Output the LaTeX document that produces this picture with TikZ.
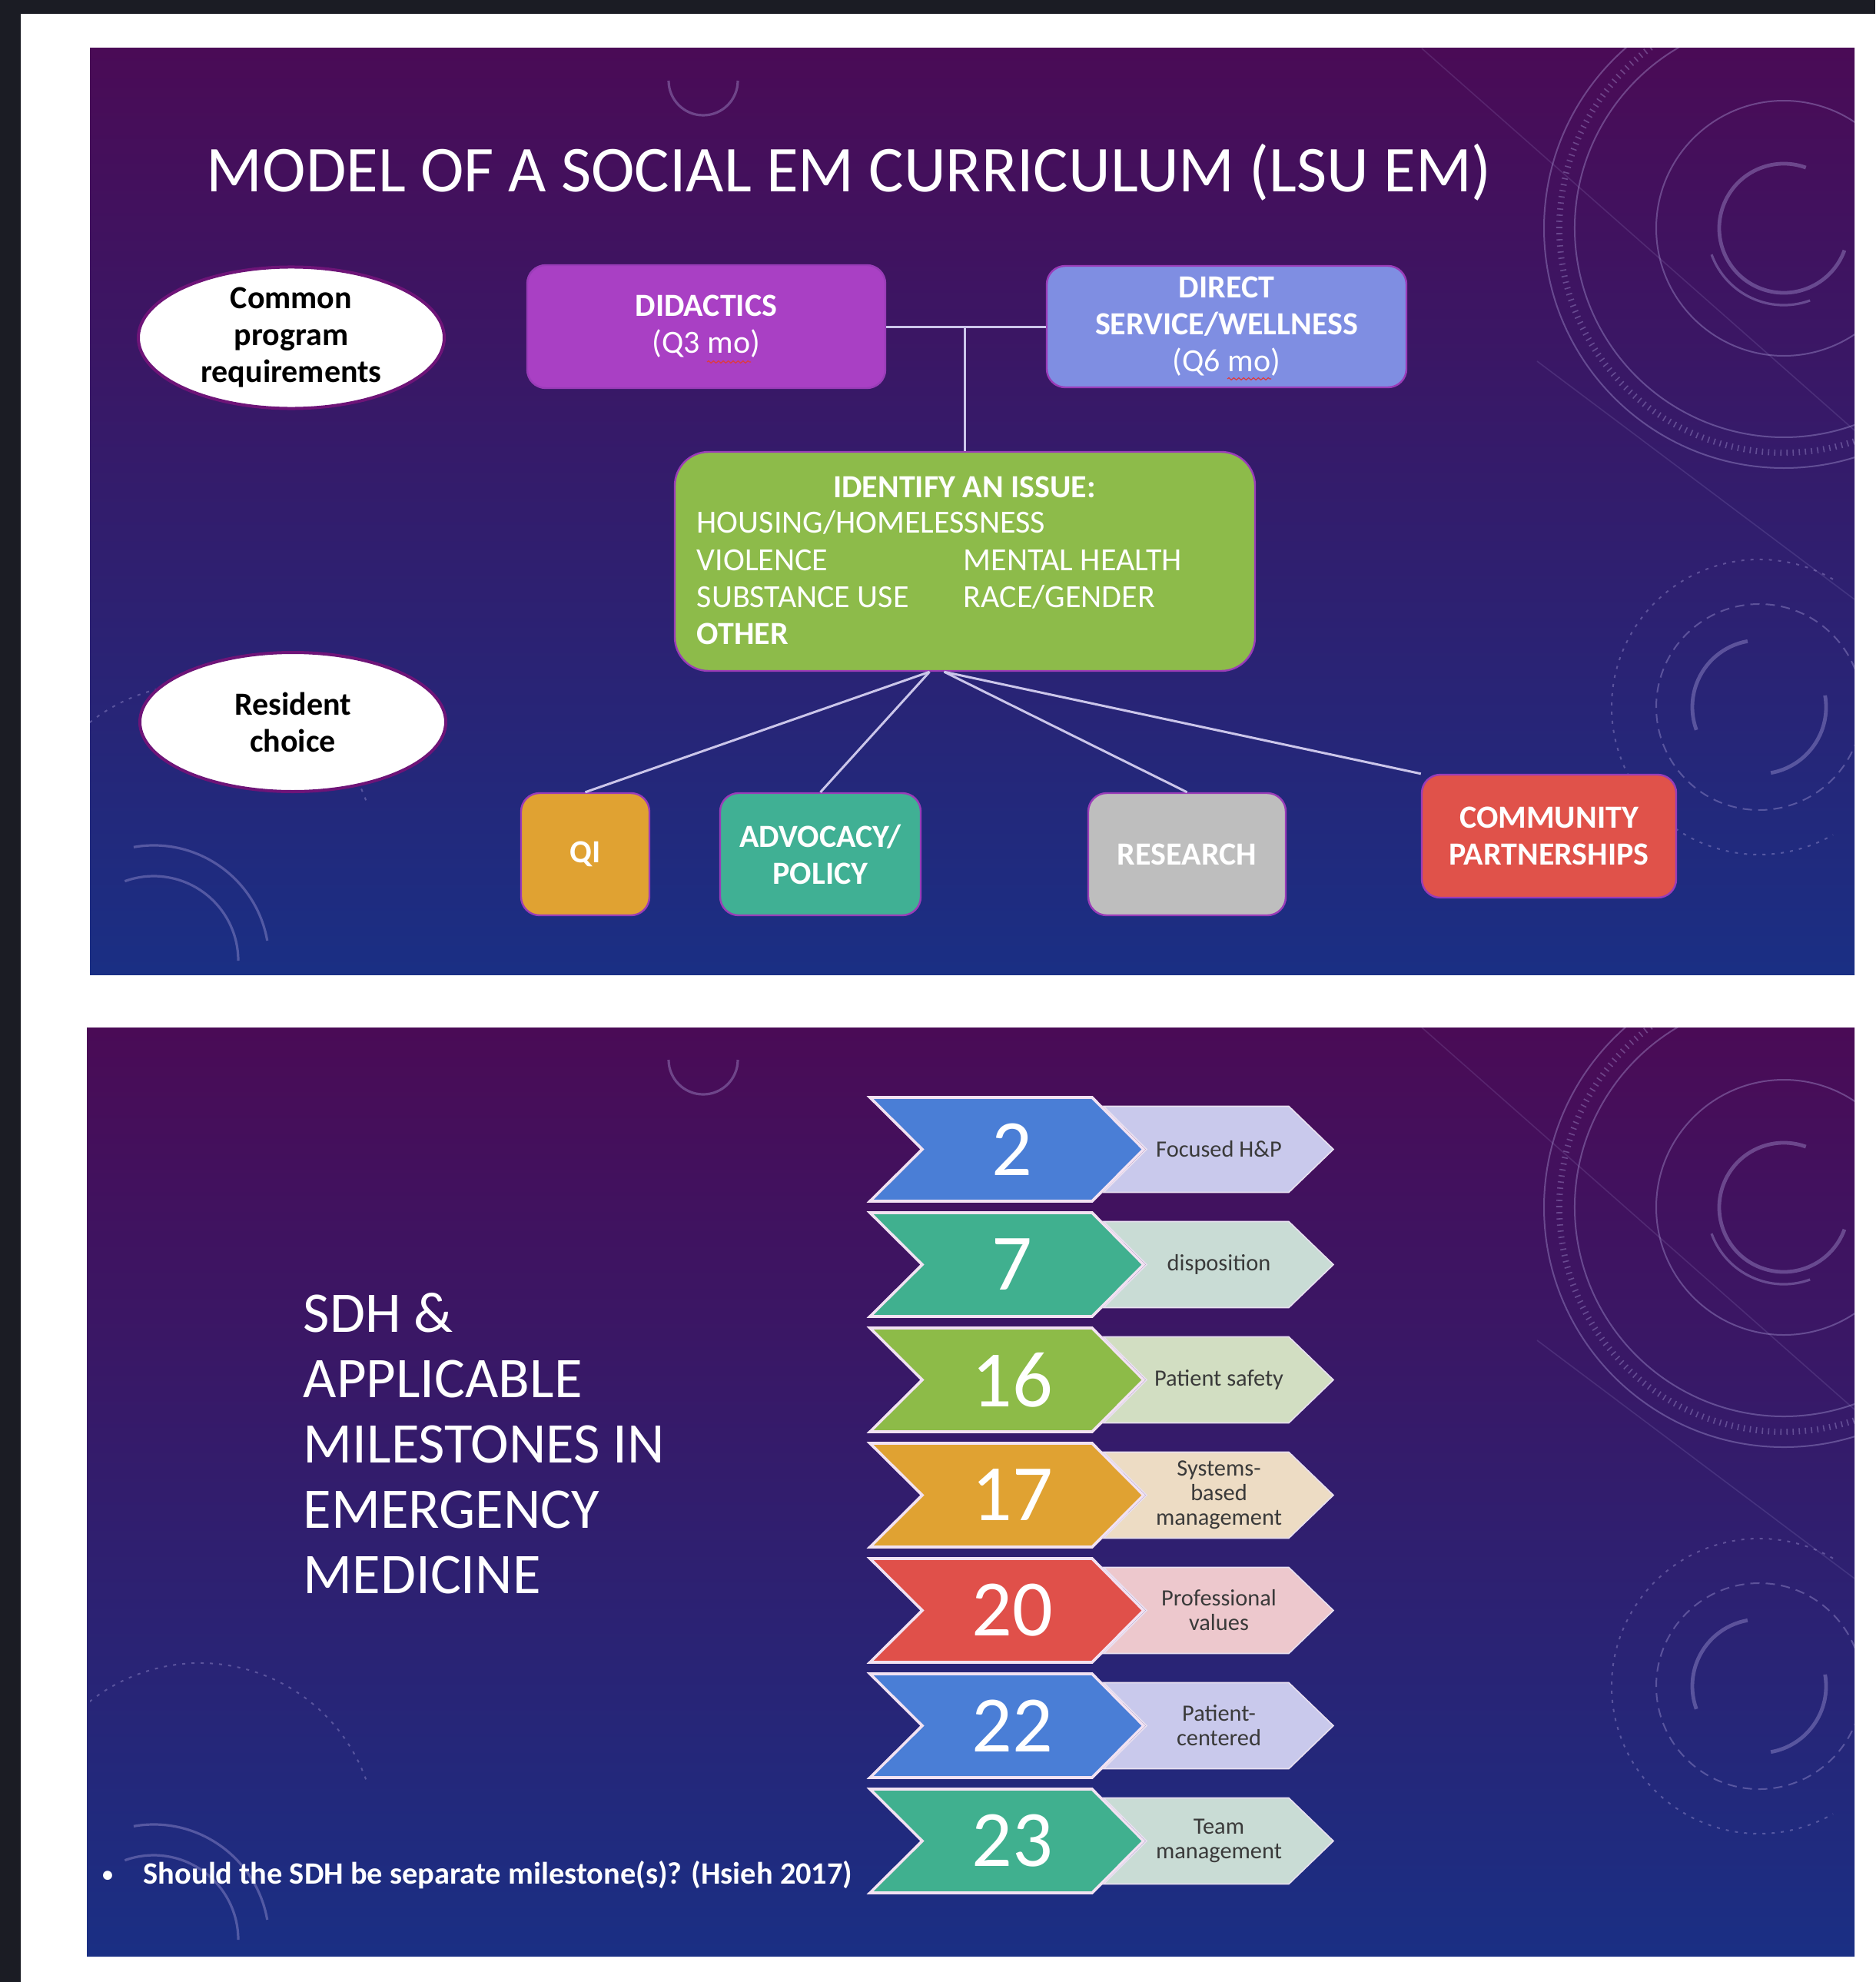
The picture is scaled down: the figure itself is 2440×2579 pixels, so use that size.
\documentclass[tikz,border=0pt]{standalone}
\usepackage{fontspec}
\setmainfont{Carlito}
\usetikzlibrary{shapes.geometric,decorations.pathmorphing,calc}
\definecolor{pagedark}{HTML}{1B1C24}
\definecolor{slidetop}{HTML}{4A0B56}
\definecolor{slidemid}{HTML}{37197A}
\definecolor{slidebot}{HTML}{1A2F84}
\definecolor{decoc}{HTML}{B9AEE6}
\definecolor{connc}{HTML}{CBC6EA}
\definecolor{boxedge}{HTML}{9A3CB8}
\definecolor{elledge}{HTML}{6E1478}
\definecolor{didc}{HTML}{A940C4}
\definecolor{dirc}{HTML}{7F8EE2}
\definecolor{issc}{HTML}{8DBB4A}
\definecolor{qic}{HTML}{E0A232}
\definecolor{advc}{HTML}{40B094}
\definecolor{resc}{HTML}{BEBEBE}
\definecolor{comc}{HTML}{E0524A}
\definecolor{chblue}{HTML}{4A7ED6}
\definecolor{chteal}{HTML}{40B08F}
\definecolor{chgreen}{HTML}{8DBB48}
\definecolor{chorange}{HTML}{E0A232}
\definecolor{chred}{HTML}{E0504A}
\definecolor{lbblue}{HTML}{C9C9EC}
\definecolor{lbteal}{HTML}{C9DCD5}
\definecolor{lbgreen}{HTML}{D2DEC2}
\definecolor{lborange}{HTML}{EDDCC4}
\definecolor{lbred}{HTML}{EDC8CD}
\definecolor{numedge}{HTML}{F2E2F2}
\definecolor{labedge}{HTML}{E8E0F0}
\definecolor{labtextc}{HTML}{3A3A3A}
\definecolor{squigc}{HTML}{E03C3C}
\newcommand\myfs[2]{\fontsize{#1}{#2}\selectfont}
\newcommand\slidedeco{%
  \draw[decoline] (2321,297) circle[radius=312];
  \draw[decoline] ([shift={(-100:272)}]2321,297) arc[start angle=-100,end angle=-300,radius=272];
  \draw[decoline, line width=2pt, dash pattern=on 0.4pt off 1.6pt] ([shift={(-120:292)}]2321,297) arc[start angle=-120,end angle=-330,radius=292];
  \draw[decoline] (2321,297) circle[radius=166];
  \draw[decoline, line width=1.2pt] ([shift={(-70:84)}]2321,297) arc[start angle=-70,end angle=-340,radius=84];
  \draw[decoline, line width=0.8pt] ([shift={(-200:100)}]2321,297) arc[start angle=-200,end angle=-290,radius=100];
  \draw[decoline, line width=1.2pt] ([shift={(-100:87)}]2289,920) arc[start angle=-100,end angle=-200,radius=87];
  \draw[decoline, line width=1.2pt] ([shift={(-10:87)}]2289,920) arc[start angle=-10,end angle=80,radius=87];
  \draw[decoline, dash pattern=on 3pt off 2pt] (2289,920) circle[radius=134];
  \draw[decoline, dash pattern=on 1pt off 2pt] ([shift={(-60:192)}]2289,920) arc[start angle=-60,end angle=-300,radius=192];
  \draw[decoline, line width=0.8pt] ([shift={(0:110)}]200,1250) arc[start angle=0,end angle=-110,radius=110];
  \draw[decoline, line width=0.8pt] ([shift={(-10:150)}]200,1250) arc[start angle=-10,end angle=-100,radius=150];
  \draw[decoline, dash pattern=on 1pt off 2pt] ([shift={(-20:230)}]260,1120) arc[start angle=-20,end angle=-140,radius=230];
  \draw[decoline, line width=0.8pt] ([shift={(-180:45)}]915,105) arc[start angle=-180,end angle=-360,radius=45];
  \draw[decoline, opacity=0.15, line width=0.4pt] (1850,63) -- (2413,560);
  \draw[decoline, opacity=0.15, line width=0.4pt] (2000,470) -- (2413,780);
}
\newcommand\chevrow[6]{%
  \pgfmathsetmacro\cvyt{1428+150*#1}
  \pgfmathsetmacro\cvyc{\cvyt+67.5}
  \pgfmathsetmacro\cvyb{\cvyt+135}
  \pgfmathsetmacro\cvlt{\cvyc-56}
  \pgfmathsetmacro\cvlb{\cvyc+56}
  \filldraw[fill=#3, draw=labedge, line width=0.4pt, line join=miter]
    (1436,\cvlt) -- (1677,\cvlt) -- (1735,\cvyc) -- (1677,\cvlb) -- (1436,\cvlb) -- (1492,\cvyc) -- cycle;
  \filldraw[fill=#2, draw=numedge, line width=0.9pt, line join=miter]
    (1132,\cvyt) -- (1421,\cvyt) -- (1488,\cvyc) -- (1421,\cvyb) -- (1132,\cvyb) -- (1200,\cvyc) -- cycle;
  \node[numtext] (num#6) at (1317,\cvyc) {#4};
  \node[labtext] (lab#6) at (1586,\cvyc) {#5};
}
\begin{document}
\begin{tikzpicture}[x=0.25pt,y=-0.25pt,
  decoline/.style={draw=decoc, opacity=0.35, line width=0.5pt},
  conn/.style={draw=connc, line width=0.75pt},
  boxbase/.style={rounded corners=6pt, draw=boxedge, line width=0.6pt, text=white, align=center, inner sep=0pt, font=\myfs{10.5}{12}},
  lowbox/.style={boxbase, font=\myfs{10.5}{12}\bfseries, minimum height=39.75pt},
  ell/.style={ellipse, fill=white, draw=elledge, line width=1pt, inner sep=0pt, minimum width=99.5pt, minimum height=45.25pt, align=center, text=black, font=\myfs{10.5}{12}\bfseries},
  gtext/.style={text=white, inner sep=0pt, font=\myfs{10.5}{12}},
  numtext/.style={text=white, inner sep=0pt, font=\myfs{26}{28}},
  labtext/.style={text=labtextc, inner sep=0pt, align=center, font=\myfs{7.6}{8}},
  squig/.style={draw=squigc, line width=0.3pt, decorate, decoration={snake, amplitude=0.35pt, segment length=1.6pt}}
]
\useasboundingbox (0,0) rectangle (2440,2579);
\fill[pagedark] (0,0) rectangle (2440,2579);
\fill[white] (27,18) rectangle (2440,2579);
% slide backgrounds
\shade[top color=slidetop, middle color=slidemid, bottom color=slidebot] (117,63) rectangle (2413,1268);
\shade[top color=slidetop, middle color=slidemid, bottom color=slidebot] (113,1337) rectangle (2413,2545);
\begin{scope}
  \clip (117,63) rectangle (2413,1268);
  \slidedeco
\end{scope}
\begin{scope}[shift={(0,1274)}]
  \clip (117,63) rectangle (2413,1271);
  \slidedeco
\end{scope}

% ---------- slide 1 ----------
\node[anchor=base west, text=white, inner sep=0pt, font=\myfs{21.3}{24}] (title1) at (268,250) {MODEL OF A SOCIAL EM CURRICULUM (LSU EM)};

\node[ell] (cpr) at (379,439.5) {Common\\program\\requirements};
\node[ell] (rch) at (381,939.5) {Resident\\choice};

\node[boxbase, fill=didc, minimum width=116.5pt, minimum height=40pt] (did) at (919,425) {\textbf{DIDACTICS}\\(Q3 mo)};
\node[boxbase, fill=dirc, minimum width=117pt, minimum height=39.5pt] (dir) at (1596,425) {\textbf{DIRECT}\\\textbf{SERVICE/WELLNESS}\\(Q6 mo)};
\draw[squig] (920,471) -- (977,471);
\draw[squig] (1597,493) -- (1654,493);

\node[boxbase, rounded corners=11pt, fill=issc, minimum width=188.75pt, minimum height=71.25pt] (iss) at (1255.5,730.5) {};
\node[gtext, font=\myfs{10.5}{12}\bfseries, anchor=base] (isst) at (1255,647) {IDENTIFY AN ISSUE:};
\node[gtext, anchor=base west] (is1) at (906,693) {HOUSING/HOMELESSNESS};
\node[gtext, anchor=base west] (is2) at (906,742) {VIOLENCE};
\node[gtext, anchor=base west] (is3) at (1253,742) {MENTAL HEALTH};
\node[gtext, anchor=base west] (is4) at (906,790) {SUBSTANCE USE};
\node[gtext, anchor=base west] (is5) at (1253,790) {RACE/GENDER};
\node[gtext, font=\myfs{10.5}{12}\bfseries, anchor=base west] (is6) at (906,838) {OTHER};

\node[lowbox, fill=qic, minimum width=41.75pt] (qi) at (761.5,1111.5) {QI};
\node[lowbox, fill=advc, minimum width=65.25pt] (adv) at (1067.5,1111.5) {ADVOCACY/\\POLICY};
\node[lowbox, fill=resc, minimum width=64.25pt] (res) at (1544.5,1111.5) {RESEARCH};
\node[lowbox, fill=comc, minimum width=82.75pt, minimum height=40pt] (com) at (2015.5,1088) {COMMUNITY\\PARTNERSHIPS};

\coordinate (jn) at (did.east -| iss.north);
\draw[conn] (did.east) -- (dir.west);
\draw[conn] (jn) -- (iss.north);
\coordinate (g1) at ($(iss.south)+(-46,0)$);
\coordinate (g2) at ($(iss.south)+(-27,0)$);
\draw[conn] (g1) -- (qi.north);
\draw[conn] (g1) -- (adv.north);
\draw[conn] (g2) -- (res.north);
\draw[conn] (g2) -- (com.north west);

% ---------- slide 2 ----------
\node[anchor=west, text=white, inner sep=0pt, align=left, font=\myfs{18.7}{21.25}] (title2) at (394,1878) {SDH \&\\APPLICABLE\\MILESTONES IN\\EMERGENCY\\MEDICINE};

\node[anchor=base, text=white, inner sep=0pt, font=\myfs{7}{12}\bfseries] (bul) at (140,2448) {•};
\node[anchor=base west, text=white, inner sep=0pt, font=\myfs{10.1}{12}\bfseries] (quest) at (186,2451) {Should the SDH be separate milestone(s)? (Hsieh 2017)};

\chevrow{0}{chblue}{lbblue}{2}{Focused H\&P}{a}
\chevrow{1}{chteal}{lbteal}{7}{disposition}{b}
\chevrow{2}{chgreen}{lbgreen}{16}{Patient safety}{c}
\chevrow{3}{chorange}{lborange}{17}{Systems-\\based\\management}{d}
\chevrow{4}{chred}{lbred}{20}{Professional\\values}{e}
\chevrow{5}{chblue}{lbblue}{22}{Patient-\\centered}{f}
\chevrow{6}{chteal}{lbteal}{23}{Team\\management}{g}
\end{tikzpicture}
\end{document}
